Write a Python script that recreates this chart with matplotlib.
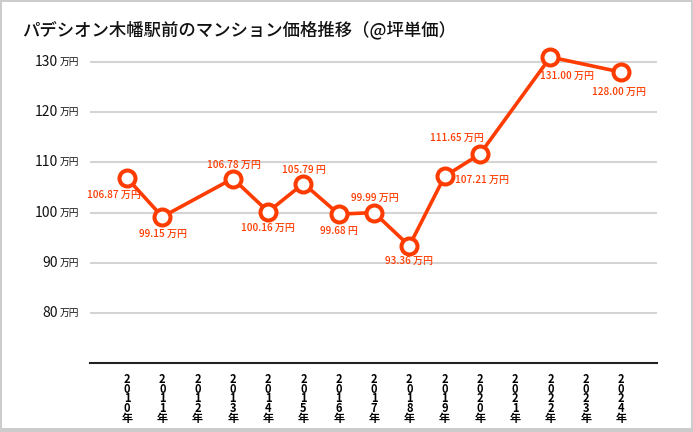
import matplotlib.pyplot as plt
from matplotlib.patches import Rectangle
import matplotlib.transforms as mtransforms

plt.rcParams['font.family'] = ['Noto Sans CJK JP', 'DejaVu Sans']

# x axis categories (every year, some without data)
years = [2010, 2011, 2012, 2013, 2014, 2015, 2016, 2017, 2018,
         2019, 2020, 2021, 2022, 2023, 2024]
# years that have a value, and the values (万円 / 坪)
data_years = [2010, 2011, 2013, 2014, 2015, 2016, 2017, 2018, 2019, 2020, 2022, 2024]
prices = [106.87, 99.15, 106.78, 100.16, 105.79, 99.68, 99.99, 93.36,
          107.21, 111.65, 131.00, 128.00]
point_labels = ['106.87 万円', '99.15 万円', '106.78 万円', '100.16 万円', '105.79 円',
                '99.68 円', '99.99 万円', '93.36 万円', '107.21 万円', '111.65 万円',
                '131.00 万円', '128.00 万円']
# where each label sits relative to its point (pixels)
label_offsets = [(-13, -17), (1, -17), (1, 14), (0, -16), (0, 14), (0, -17),
                 (1, 15), (0, -15), (37, -4), (-23, 16), (17, -19), (-2, -20)]
yticks = [80, 90, 100, 110, 120, 130]

title = 'パデシオン木幡駅前のマンション価格推移（@坪単価）'
color = '#ff3c00'

fig = plt.figure(figsize=(6.93, 4.32), dpi=100)
fig.patch.set_facecolor('#cccccc')
fig.patches.append(Rectangle((2 / 693, 4 / 432), 689 / 693, 426 / 432,
                             transform=fig.transFigure, facecolor='white',
                             edgecolor='none', zorder=-1))

ax = fig.add_axes([90 / 693, 69 / 432, 567 / 693, 328 / 432])
ax.set_facecolor('none')

xpos = [years.index(y) for y in data_years]
ax.plot(xpos, prices, color=color, lw=2.6, marker='o', ms=11.5,
        mfc='white', mec=color, mew=2.9, zorder=3, clip_on=False)

for x, v, lab, (dx, dy) in zip(xpos, prices, point_labels, label_offsets):
    ax.annotate(lab, (x, v), xytext=(dx, dy), textcoords='offset pixels',
                ha='center', va='center', fontsize=7.2, fontweight='medium',
                color=color, zorder=4)

ax.set_xlim(-1.05, len(years) - 1 + 1.02)
ax.set_ylim(70, 135.4)

# gridlines
ax.set_yticks(yticks)
ax.yaxis.grid(True, color='#d4d4d4', lw=1.5)
ax.tick_params(axis='y', length=0, labelleft=False)
for s in ['top', 'right', 'left']:
    ax.spines[s].set_visible(False)
ax.spines['bottom'].set_color('#222222')
ax.spines['bottom'].set_linewidth(1.5)

# y tick labels: number + small 万円
trans = mtransforms.blended_transform_factory(ax.transAxes, ax.transData)
for t in yticks:
    ax.text(-0.019, t, '万円', transform=trans, ha='right', va='center',
            fontsize=7, color='#111111')
    ax.text(-0.056, t, str(t), transform=trans, ha='right', va='center',
            fontsize=10, color='#111111')

# vertical stacked year labels
ax.set_xticks(range(len(years)))
ax.set_xticklabels(['\n'.join(str(y)) + '\n年' for y in years],
                   fontsize=8, linespacing=0.68, fontweight='bold')
ax.tick_params(axis='x', length=0, pad=7)

fig.text(22 / 693, 1 - 30 / 432, title, fontsize=12.5, fontweight='medium',
         va='center', ha='left', color='#111111')

fig.savefig('out.png', dpi=100)
